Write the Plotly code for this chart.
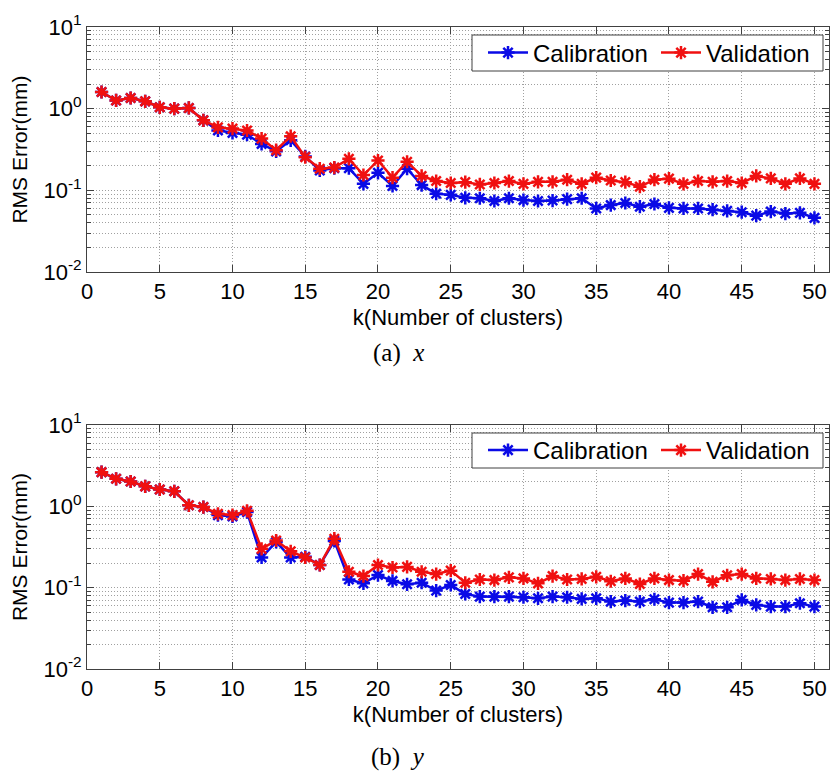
import plotly.graph_objects as go

k = list(range(1, 51))

x_calibration = [1.6, 1.26, 1.35, 1.23, 1.04, 1.0, 1.02, 0.72, 0.54, 0.505,
                 0.48, 0.37, 0.30, 0.41, 0.26, 0.175, 0.187, 0.187, 0.12, 0.164,
                 0.113, 0.184, 0.116, 0.091, 0.088, 0.081, 0.080, 0.074, 0.080, 0.076,
                 0.074, 0.075, 0.078, 0.080, 0.060, 0.066, 0.070, 0.063, 0.068, 0.061,
                 0.060, 0.060, 0.058, 0.056, 0.054, 0.049, 0.055, 0.052, 0.053, 0.046]
x_validation = [1.6, 1.26, 1.35, 1.23, 1.04, 1.0, 1.02, 0.72, 0.59, 0.57,
                0.54, 0.43, 0.31, 0.46, 0.255, 0.184, 0.19, 0.243, 0.154, 0.232,
                0.143, 0.224, 0.15, 0.13, 0.123, 0.126, 0.118, 0.123, 0.13, 0.12,
                0.127, 0.127, 0.135, 0.12, 0.143, 0.132, 0.126, 0.111, 0.135, 0.139,
                0.12, 0.13, 0.127, 0.13, 0.123, 0.15, 0.14, 0.12, 0.14, 0.12]
y_calibration = [2.63, 2.18, 2.02, 1.76, 1.61, 1.53, 1.03, 0.98, 0.78, 0.75,
                 0.85, 0.235, 0.365, 0.235, 0.24, 0.19, 0.376, 0.126, 0.113, 0.143,
                 0.121, 0.11, 0.115, 0.092, 0.108, 0.0836, 0.0776, 0.0776, 0.0776, 0.0762,
                 0.074, 0.0776, 0.0762, 0.0727, 0.074, 0.0674, 0.0693, 0.0674, 0.072, 0.0655,
                 0.0655, 0.0674, 0.0574, 0.0574, 0.0706, 0.0614, 0.0585, 0.0585, 0.0643, 0.0585]
y_validation = [2.63, 2.18, 2.02, 1.76, 1.61, 1.53, 1.03, 0.98, 0.81, 0.78,
                0.88, 0.30, 0.38, 0.28, 0.235, 0.19, 0.40, 0.157, 0.139, 0.19,
                0.177, 0.18, 0.157, 0.147, 0.162, 0.115, 0.126, 0.124, 0.134, 0.13,
                0.113, 0.139, 0.126, 0.128, 0.136, 0.12, 0.13, 0.111, 0.13, 0.124,
                0.122, 0.147, 0.118, 0.142, 0.147, 0.13, 0.128, 0.124, 0.128, 0.124]

x_ticks = [0, 5, 10, 15, 20, 25, 30, 35, 40, 45, 50]
y_ticks = [0.01, 0.1, 1, 10]
y_ticktext = ["10<sup>-2</sup>", "10<sup>-1</sup>", "10<sup>0</sup>", "10<sup>1</sup>"]
y_minor = [m * d for d in (0.01, 0.1, 1) for m in range(2, 10)]

series_names = ["Calibration", "Validation"]
colors = ["#0a0ae6", "#f01010"]

FONT = "Liberation Sans, Arial, sans-serif"
W, H = 832, 779

fig = go.Figure()
panels = [(x_calibration, x_validation, "x", "y", "legend"),
          (y_calibration, y_validation, "x2", "y2", "legend2")]
for cal, val, xa, ya, lg in panels:
    for name, vals, col in zip(series_names, [cal, val], colors):
        fig.add_trace(go.Scatter(
            x=k, y=vals, name=name, mode="lines+markers",
            xaxis=xa, yaxis=ya, legend=lg,
            line=dict(color=col, width=2.5),
            marker=dict(symbol="asterisk-open", size=11, color=col,
                        line=dict(color=col, width=2.5)),
        ))

grid_col = "#a0a0a0"
axis_col = "#404040"

def xaxis_cfg(anchor):
    return dict(
        domain=[87 / W, 829 / W], anchor=anchor, range=[0, 51], automargin=False,
        tickmode="array", tickvals=x_ticks, ticks="inside", ticklen=7,
        tickcolor=axis_col, showline=True, linecolor=axis_col, linewidth=1,
        mirror="ticks", showgrid=True, gridcolor=grid_col, griddash="1px,2px",
        gridwidth=1, zeroline=False,
        tickfont=dict(family=FONT, size=22, color="black"),
        title=dict(text="k(Number of clusters)", standoff=6,
                   font=dict(family=FONT, size=22, color="black")),
    )

def yaxis_cfg(anchor, top, bottom):
    return dict(
        domain=[1 - bottom / H, 1 - top / H], anchor=anchor, type="log",
        automargin=False,
        range=[-2, 1], tickmode="array", tickvals=y_ticks, ticktext=y_ticktext,
        ticks="inside", ticklen=7, tickcolor=axis_col,
        showline=True, linecolor=axis_col, linewidth=1, mirror="ticks",
        showgrid=True, gridcolor=grid_col, griddash="1px,2px", gridwidth=1,
        zeroline=False,
        minor=dict(tickmode="array", tickvals=y_minor, ticks="inside",
                   ticklen=4, tickcolor=axis_col, showgrid=True,
                   gridcolor=grid_col, griddash="1px,2px", gridwidth=1),
        tickfont=dict(family=FONT, size=22, color="black"),
        title=dict(text="RMS Error(mm)", standoff=10,
                   font=dict(family=FONT, size=21, color="black")),
    )

legend_common = dict(
    orientation="h", xanchor="left", yanchor="middle", x=483 / W,
    bgcolor="rgba(0,0,0,0)", borderwidth=0,
    font=dict(family=FONT, size=24, color="black"),
    itemwidth=40, tracegroupgap=0, entrywidth=118,
)

legend_boxes = [(35, 71), (433, 468)]
shapes = [dict(type="rect", xref="paper", yref="paper",
               x0=472 / W, x1=823 / W, y0=1 - b / H, y1=1 - t / H,
               line=dict(color="#404040", width=1), fillcolor="white", layer="above")
          for t, b in legend_boxes]

fig.update_layout(
    width=W, height=H, paper_bgcolor="white", plot_bgcolor="white",
    margin=dict(l=0, r=0, t=0, b=0, autoexpand=False), showlegend=True,
    xaxis=xaxis_cfg("y"), yaxis=yaxis_cfg("x", 27, 272),
    xaxis2=xaxis_cfg("y2"), yaxis2=yaxis_cfg("x2", 425, 669),
    legend=dict(legend_common, y=1 - 53 / H),
    legend2=dict(legend_common, y=1 - 450.5 / H),
    shapes=shapes,
    annotations=[
        dict(text="(a)  <i>x</i>", x=398 / W, y=1 - 353 / H, xref="paper", yref="paper",
             showarrow=False, xanchor="center", yanchor="middle",
             font=dict(family="Liberation Serif, serif", size=25, color="black")),
        dict(text="(b)  <i>y</i>", x=398 / W, y=1 - 757 / H, xref="paper", yref="paper",
             showarrow=False, xanchor="center", yanchor="middle",
             font=dict(family="Liberation Serif, serif", size=25, color="black")),
    ],
)

fig.write_html("out.html", config={"displayModeBar": False},
               post_script="document.body.style.margin='0';")
